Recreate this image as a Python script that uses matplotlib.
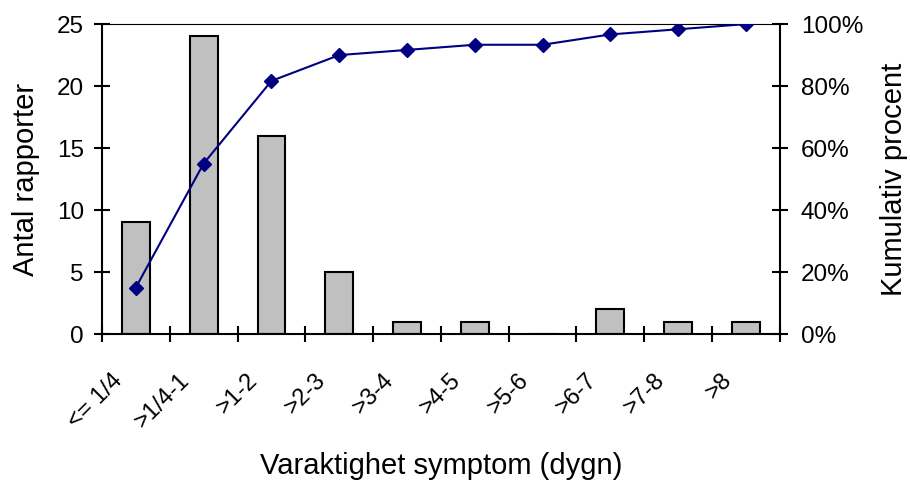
import numpy as np
import matplotlib.pyplot as plt
from matplotlib.transforms import ScaledTranslation
from matplotlib.ticker import PercentFormatter

plt.rcParams['font.family'] = ['Liberation Sans', 'DejaVu Sans']

categories = ['<= 1/4', '>1/4-1', '>1-2', '>2-3', '>3-4', '>4-5', '>5-6', '>6-7', '>7-8', '>8']
counts = [9, 24, 16, 5, 1, 1, 0, 2, 1, 1]
cum_pct = np.cumsum(counts) / np.sum(counts)

x = np.arange(len(categories))

fig = plt.figure(figsize=(9.1, 4.82), dpi=100)
ax = fig.add_axes([0.112, 0.307, 0.745, 0.643])
ax2 = ax.twinx()

ax.bar(x, counts, width=0.41, color='#c0c0c0', edgecolor='black', linewidth=1.5, zorder=2)
ax2.plot(x, cum_pct, color='#000080', lw=1.5, marker='D', ms=7, zorder=3)

ax.set_xlim(-0.5, len(categories) - 0.5)
ax.set_ylim(0, 25)
ax.set_yticks([0, 5, 10, 15, 20, 25])
ax2.set_ylim(0, 1)
ax2.set_yticks([0, 0.2, 0.4, 0.6, 0.8, 1.0])
ax2.yaxis.set_major_formatter(PercentFormatter(1.0, decimals=0))

# ticks on category boundaries, labels at centres
ax.set_xticks(np.arange(len(categories) + 1) - 0.5, [''] * (len(categories) + 1))
ax.set_xticks(x, categories, minor=True)
ax.tick_params(axis='x', which='major', direction='inout', length=12, width=1.5)
ax.tick_params(axis='x', which='minor', length=0, pad=31, labelsize=17)
offset = ScaledTranslation(-0.17, 0, fig.dpi_scale_trans)
for lab in ax.get_xticklabels(minor=True):
    lab.set_rotation(45)
    lab.set_ha('right')
    lab.set_va('center')
    lab.set_rotation_mode('anchor')
    lab.set_transform(lab.get_transform() + offset)

ax.tick_params(axis='y', direction='inout', length=12, width=1.5, labelsize=17.5, pad=7)
ax2.tick_params(axis='y', direction='inout', length=12, width=1.5, labelsize=17.5, pad=9)

for s in ['left', 'bottom']:
    ax.spines[s].set_linewidth(1.5)
ax.spines['top'].set_linewidth(0.8)
ax.spines['right'].set_visible(False)
for s in ['left', 'top', 'bottom']:
    ax2.spines[s].set_visible(False)
ax2.spines['right'].set_linewidth(1.5)

ax.set_ylabel('Antal rapporter', fontsize=21, va='center', ha='center')
ax.yaxis.set_label_coords(-0.112, 0.5)
ax2.set_ylabel('Kumulativ procent', fontsize=21, va='center', ha='center')
ax2.yaxis.set_label_coords(1.168, 0.5)
ax.set_xlabel('Varaktighet symptom (dygn)', fontsize=21, va='center')
ax.xaxis.set_label_coords(0.5, -0.426)

fig.savefig('out.png', dpi=100)
